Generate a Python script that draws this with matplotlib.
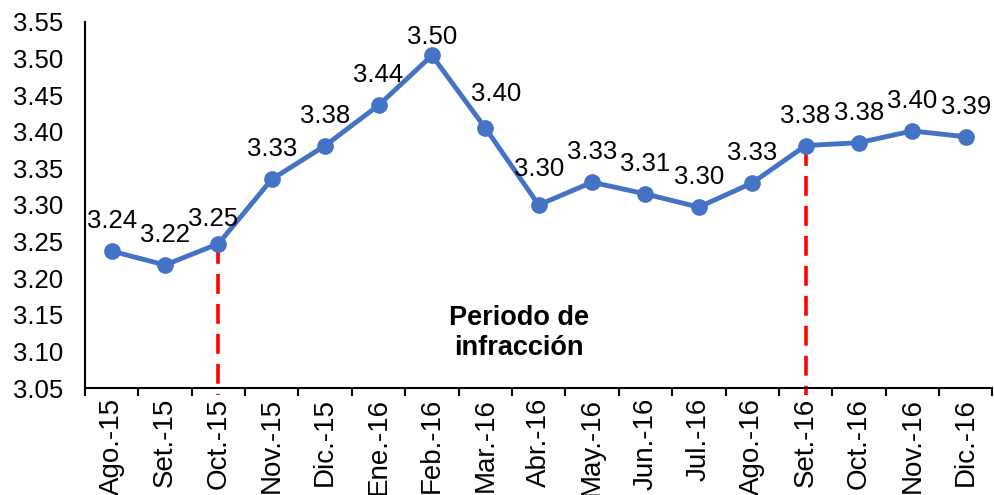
import numpy as np
import matplotlib.pyplot as plt

plt.rcParams['font.family'] = ['Liberation Sans', 'DejaVu Sans']

months = ['Ago.-15', 'Set.-15', 'Oct.-15', 'Nov.-15', 'Dic.-15', 'Ene.-16',
          'Feb.-16', 'Mar.-16', 'Abr.-16', 'May.-16', 'Jun.-16', 'Jul.-16',
          'Ago.-16', 'Set.-16', 'Oct.-16', 'Nov.-16', 'Dic.-16']
values = [3.237, 3.218, 3.247, 3.335, 3.381, 3.436, 3.504, 3.405, 3.300,
          3.331, 3.315, 3.297, 3.330, 3.381, 3.385, 3.401, 3.393]
# start and end of the infraction period
period_idx = [2, 13]

# a few labels sit off the default spot (offset points)
label_nudge = {2: (-4, 9), 6: (0, 5), 7: (8, 16), 8: (0, 17)}

fig = plt.figure(figsize=(9.95, 4.95), dpi=100)
ax = fig.add_axes([0.0854, 0.216, 0.912, 0.740])

x = np.arange(len(months))
ax.plot(x, values, color='#4472C4', linewidth=3.5, marker='o', markersize=11, zorder=3)

for i, (xi, v) in enumerate(zip(x, values)):
    off = label_nudge.get(i, (0, 13))
    ax.annotate(f'{v:.2f}', (xi, v), xytext=off, textcoords='offset points',
                ha='center', va='bottom', fontsize=18.5, color='black', zorder=4)

for i in period_idx:
    ax.plot([x[i], x[i]], [values[i], 3.040], color='red', linestyle=(0, (5.5, 2.8)),
            linewidth=2.6, clip_on=False, zorder=2)

ax.text(7.63, 3.125, 'Periodo de\ninfracción', ha='center', va='center',
        fontsize=19.5, fontweight='bold', linespacing=1.2)

ax.set_xlim(-0.5, len(months) - 0.5)
ax.set_ylim(3.05, 3.55)
ax.set_yticks(np.arange(3.05, 3.5501, 0.05))
ax.set_yticklabels([f'{t:.2f}' for t in np.arange(3.05, 3.5501, 0.05)])
ax.set_xticks(x)
ax.set_xticklabels(months, rotation=90, va='top', ha='center')
ax.set_xticks(np.arange(-0.5, len(months), 1), minor=True)

ax.tick_params(axis='y', length=0, pad=16, labelsize=18.5)
ax.tick_params(axis='x', which='major', length=0, pad=7, labelsize=20)
ax.tick_params(axis='x', which='minor', length=6, width=1.5, direction='out')

for s in ['top', 'right']:
    ax.spines[s].set_visible(False)
for s in ['left', 'bottom']:
    ax.spines[s].set_linewidth(1.5)

fig.savefig('out.png', dpi=100)
